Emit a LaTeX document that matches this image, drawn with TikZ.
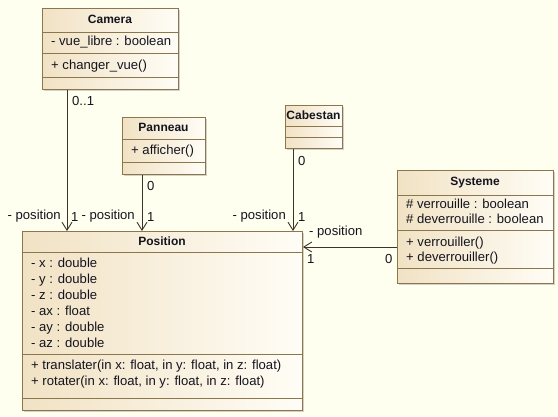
\documentclass[tikz,border=0pt]{standalone}
\usepackage{fontspec}
\setmainfont{Liberation Sans}
\usetikzlibrary{arrows.meta,shadows}
\definecolor{bg}{RGB}{255,255,240}
\definecolor{boxline}{RGB}{140,118,78}
\definecolor{boxleft}{RGB}{241,226,196}
\definecolor{boxright}{RGB}{255,253,246}
\definecolor{wire}{RGB}{60,52,40}
\definecolor{txt}{RGB}{20,20,30}
\begin{document}
\begin{tikzpicture}[x=1bp,y=-1bp,
  classbox/.style={draw=boxline, line width=1bp, left color=boxleft, right color=boxright,
    inner sep=0, anchor=north west,
    drop shadow={shadow xshift=1.5bp, shadow yshift=-1.5bp, fill=black!35, opacity=0.5}},
  sep/.style={draw=boxline, line width=0.8bp},
  ttl/.style={font=\fontsize{12bp}{14bp}\selectfont\bfseries, text=txt, inner sep=0, text height=9bp, text depth=2.5bp},
  mem/.style={font=\fontsize{13.1bp}{16bp}\selectfont, text=txt, inner sep=0, anchor=west, text height=9bp, text depth=2.5bp},
  lbl/.style={mem},
  assoc/.style={draw=wire, line width=0.9bp, -{Straight Barb[length=8bp,width=10bp,line width=0.9bp]}},
]
\fill[bg] (0,0) rectangle (558,416);
\useasboundingbox (0,0) rectangle (558,416);

% Camera
\node[classbox, minimum width=136bp, minimum height=81bp] (camera) at (42,8) {};
\draw[sep] (camera.west |- 0,32) -- (camera.east |- 0,32);
\draw[sep] (camera.west |- 0,53) -- (camera.east |- 0,53);
\draw[sep] (camera.west |- 0,77) -- (camera.east |- 0,77);
\node[ttl] (cameraT) at (110,20) {Camera};
\node[mem] (cameraA) at (51,42) {- vue\_libre : boolean};
\node[mem] (cameraO) at (51,66) {+ changer\_vue()};

% Panneau
\node[classbox, minimum width=83bp, minimum height=57bp] (panneau) at (122,117) {};
\draw[sep] (panneau.west |- 0,139) -- (panneau.east |- 0,139);
\draw[sep] (panneau.west |- 0,162) -- (panneau.east |- 0,162);
\node[ttl] (panneauT) at (163.5,128) {Panneau};
\node[mem] (panneauO) at (131,151) {+ afficher()};

% Cabestan
\node[classbox, minimum width=57bp, minimum height=43bp] (cabestan) at (285,105) {};
\draw[sep] (cabestan.west |- 0,126) -- (cabestan.east |- 0,126);
\draw[sep] (cabestan.west |- 0,137) -- (cabestan.east |- 0,137);
\node[ttl] (cabestanT) at (313.5,116) {Cabestan};

% Systeme
\node[classbox, minimum width=156bp, minimum height=113bp] (systeme) at (397,170) {};
\draw[sep] (systeme.west |- 0,195) -- (systeme.east |- 0,195);
\draw[sep] (systeme.west |- 0,230) -- (systeme.east |- 0,230);
\draw[sep] (systeme.west |- 0,268) -- (systeme.east |- 0,268);
\node[ttl] (systemeT) at (475,182) {Systeme};
\node[mem] (systemeA1) at (406,205) {\# verrouille : boolean};
\node[mem] (systemeA2) at (406,220) {\# deverrouille : boolean};
\node[mem] (systemeO1) at (406,243) {+ verrouiller()};
\node[mem] (systemeO2) at (406,258) {+ deverrouiller()};

% Position
\node[classbox, minimum width=280bp, minimum height=179bp] (position) at (22,231) {};
\draw[sep] (position.west |- 0,252) -- (position.east |- 0,252);
\draw[sep] (position.west |- 0,354) -- (position.east |- 0,354);
\draw[sep] (position.west |- 0,398) -- (position.east |- 0,398);
\node[ttl] (positionT) at (162,242) {Position};
\node[mem] (pa1) at (31,264.5) {- x : double};
\node[mem] (pa2) at (31,280.5) {- y : double};
\node[mem] (pa3) at (31,296.5) {- z : double};
\node[mem] (pa4) at (31,312.5) {- ax : float};
\node[mem] (pa5) at (31,328.5) {- ay : double};
\node[mem] (pa6) at (31,344.5) {- az : double};
\node[mem] (po1) at (31,366.5) {+ translater(in x: float, in y: float, in z: float)};
\node[mem] (po2) at (31,382.5) {+ rotater(in x: float, in y: float, in z: float)};

% connectors
\coordinate (x1) at (67,0);
\coordinate (x2) at (142,0);
\coordinate (x3) at (293,0);
\coordinate (h) at (0,247);
\draw[assoc] (camera.south -| x1) -- (position.north -| x1);
\draw[assoc] (panneau.south -| x2) -- (position.north -| x2);
\draw[assoc] (cabestan.south -| x3) -- (position.north -| x3);
\draw[assoc] (systeme.west |- h) -- (position.east |- h);

% labels
\node[lbl] (l1) at (72,102) {0..1};
\node[lbl, anchor=east] (l2) at (61,216) {- position};
\node[lbl] (l3) at (71,218.5) {1};
\node[lbl] (l4) at (147,187) {0};
\node[lbl, anchor=east] (l5) at (135,216) {- position};
\node[lbl] (l6) at (147,218.5) {1};
\node[lbl] (l7) at (298,162) {0};
\node[lbl, anchor=east] (l8) at (286,216) {- position};
\node[lbl] (l9) at (298,218.5) {1};
\node[lbl] (l10) at (309,232) {- position};
\node[lbl] (l11) at (307,260) {1};
\node[lbl] (l12) at (385,260) {0};
\end{tikzpicture}
\end{document}
